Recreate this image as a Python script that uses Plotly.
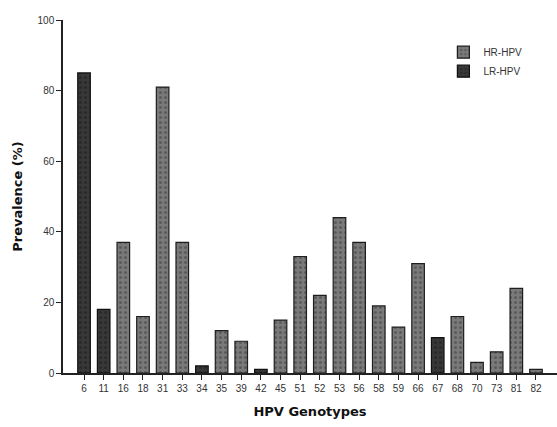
import plotly.graph_objects as go

genotypes = ["6", "11", "16", "18", "31", "33", "34", "35", "39", "42", "45", "51", "52",
             "53", "56", "58", "59", "66", "67", "68", "70", "73", "81", "82"]
prevalence = [85, 18, 37, 16, 81, 37, 2, 12, 9, 1, 15, 33, 22, 44, 37, 19, 13, 31, 10, 16, 3, 6, 24, 1]
risk = ["LR", "LR", "HR", "HR", "HR", "HR", "LR", "HR", "HR", "LR", "HR", "HR", "HR",
        "HR", "HR", "HR", "HR", "HR", "LR", "HR", "HR", "HR", "HR", "HR"]

y_ticks = [0, 20, 40, 60, 80, 100]

hr_vals = [v if r == "HR" else None for v, r in zip(prevalence, risk)]
lr_vals = [v if r == "LR" else None for v, r in zip(prevalence, risk)]

fig = go.Figure()
fig.add_trace(go.Bar(
    x=genotypes, y=hr_vals, name="HR-HPV", width=0.64,
    marker=dict(color="#787878", line=dict(color="#1e1e1e", width=1.2),
                pattern=dict(shape=".", fgcolor="#3c3c3c", bgcolor="#7a7a7a", size=5, solidity=0.3)),
))
fig.add_trace(go.Bar(
    x=genotypes, y=lr_vals, name="LR-HPV", width=0.64,
    marker=dict(color="#333333", line=dict(color="#111111", width=1.2),
                pattern=dict(shape=".", fgcolor="#1a1a1a", bgcolor="#383838", size=5, solidity=0.3)),
))

fig.update_layout(
    width=557, height=427,
    margin=dict(l=63, r=0, t=20, b=54),
    paper_bgcolor="white", plot_bgcolor="white",
    barmode="overlay",
    showlegend=True,
    legend=dict(x=0.77, y=0.95, xanchor="left", yanchor="top",
                font=dict(family="Liberation Sans, Arial, sans-serif", size=10, color="#333"),
                bgcolor="rgba(0,0,0,0)", tracegroupgap=0, itemwidth=30),
    font=dict(family="Liberation Sans, Arial, sans-serif", size=10, color="#333"),
)
fig.update_xaxes(
    type="category", range=[-1.07, 24.07],
    showline=True, linecolor="#222", linewidth=1.5,
    ticks="outside", ticklen=5, tickcolor="#222", tickwidth=1,
    showgrid=False, zeroline=False,
    tickfont=dict(size=10, color="#333"),
    title=dict(text="<b>HPV Genotypes</b>", font=dict(family="DejaVu Sans, Verdana, sans-serif", size=13, color="#111"), standoff=14),
)
fig.update_yaxes(
    range=[0, 100], tickvals=y_ticks,
    showline=True, linecolor="#222", linewidth=1.5,
    ticks="outside", ticklen=5, tickcolor="#222", tickwidth=1,
    showgrid=False, zeroline=False,
    tickfont=dict(size=10, color="#333"),
    title=dict(text="<b>Prevalence (%)</b>", font=dict(family="DejaVu Sans, Verdana, sans-serif", size=13, color="#111"), standoff=12),
)

fig.write_html("out.html")
